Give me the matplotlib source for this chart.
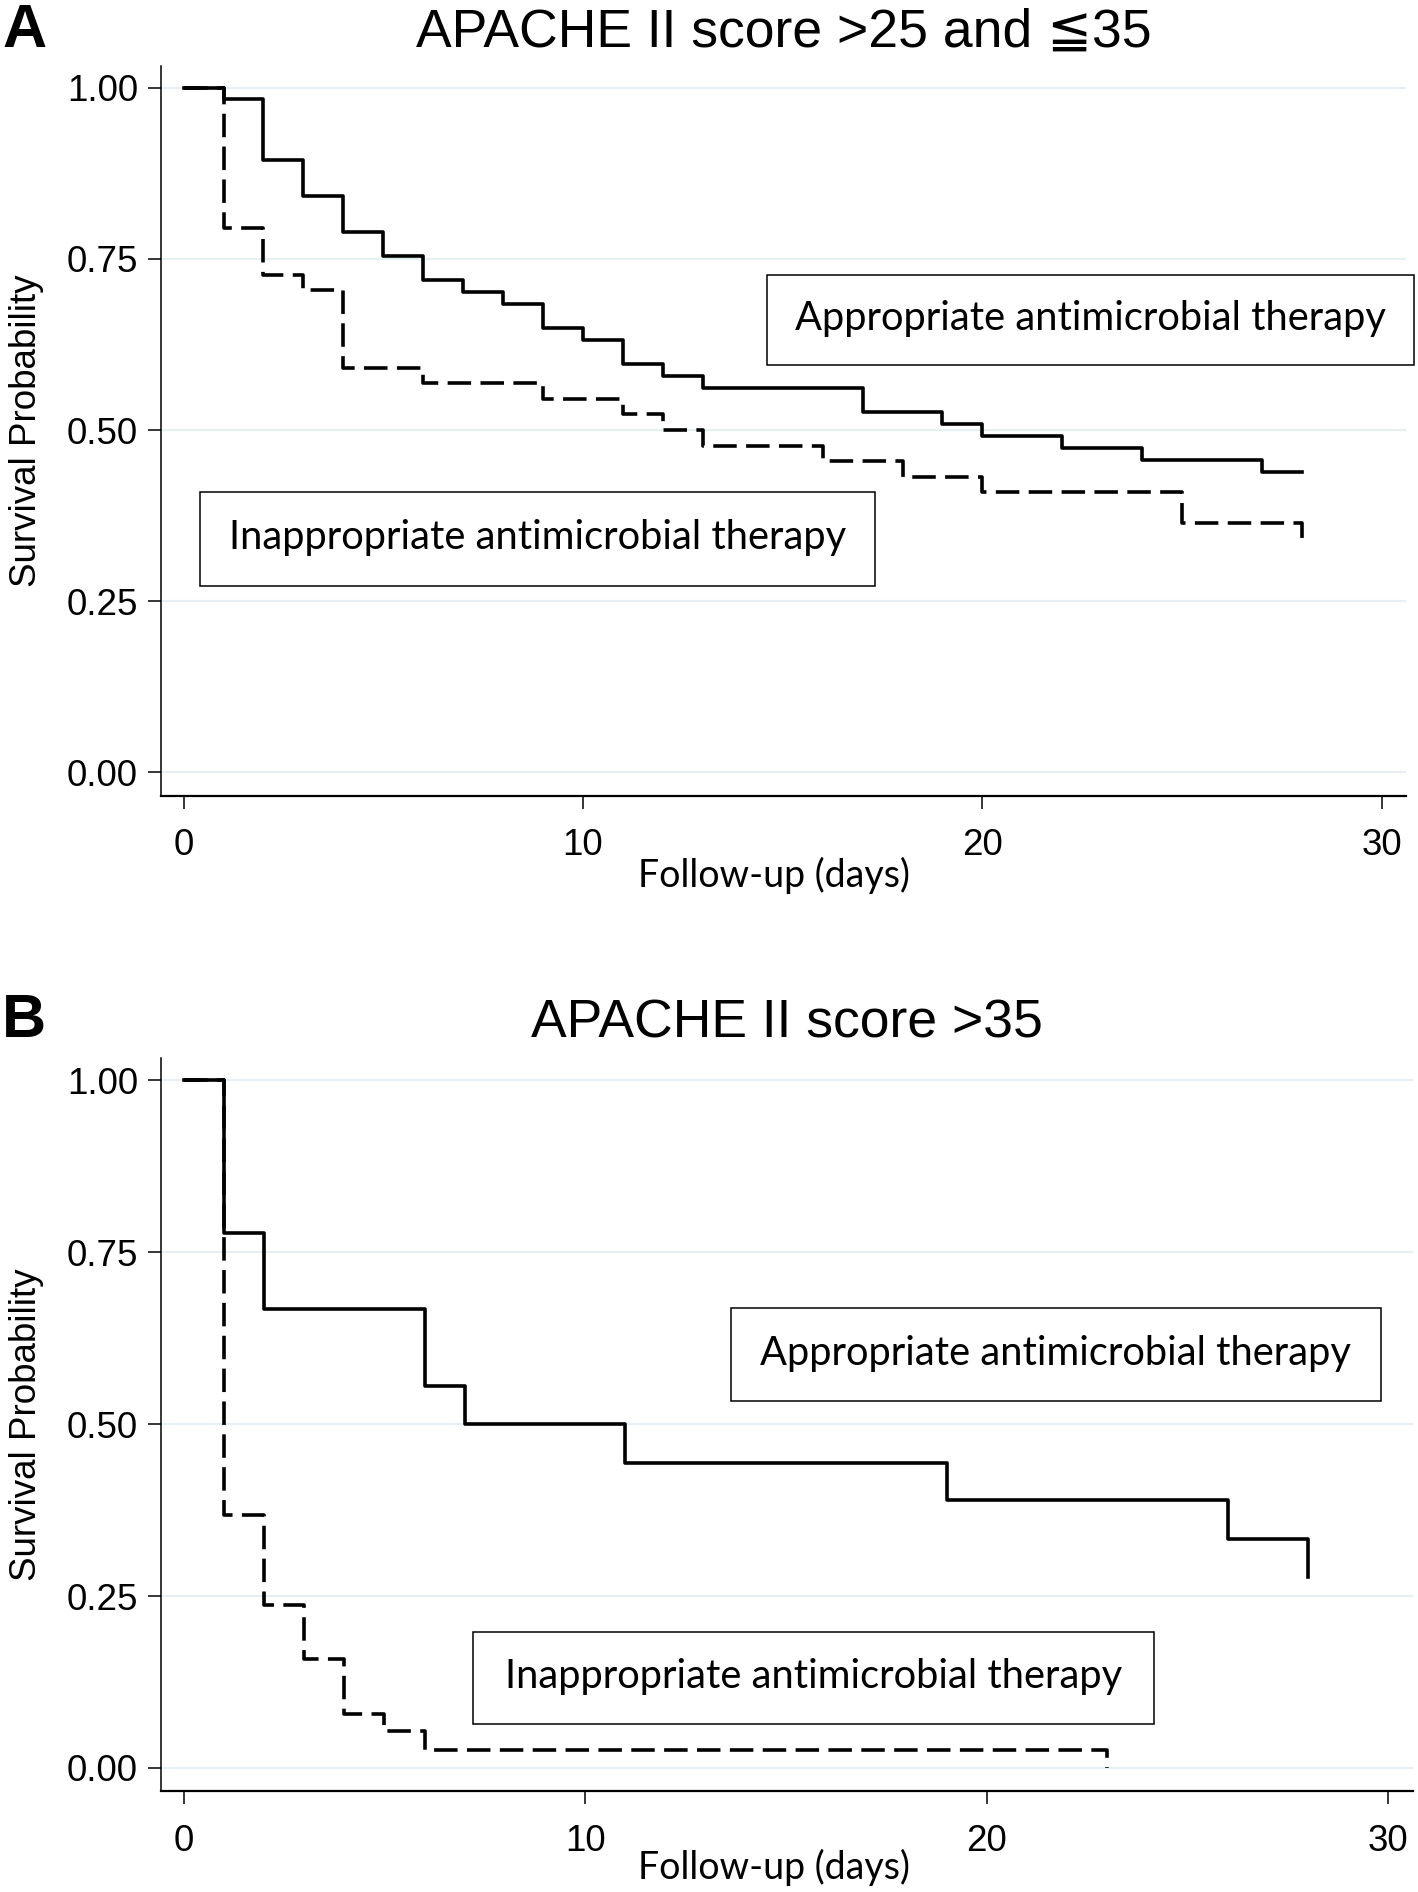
import numpy as np
import matplotlib
matplotlib.use("Agg")
import matplotlib.pyplot as plt
from matplotlib.patches import Rectangle

# Kaplan-Meier step values (time in days, survival after the step)
# Panel A: APACHE II >25 and <=35
a_appr_t = [0, 1, 2, 3, 4, 5, 6, 7, 8, 9, 10, 11, 12, 13, 17, 19, 20, 22, 24, 27, 28]
a_appr_s = [1.0, 0.983, 0.895, 0.842, 0.789, 0.754, 0.719, 0.702, 0.684, 0.649, 0.632,
            0.596, 0.579, 0.561, 0.526, 0.509, 0.491, 0.474, 0.456, 0.439, 0.439]
a_inap_t = [0, 1, 2, 3, 4, 6, 9, 11, 12, 13, 16, 18, 20, 25, 28]
a_inap_s = [1.0, 0.795, 0.727, 0.705, 0.591, 0.568, 0.545, 0.523, 0.500, 0.477,
            0.455, 0.432, 0.409, 0.364, 0.341]

# Panel B: APACHE II >35
b_appr_t = [0, 1, 2, 6, 7, 11, 19, 26, 28]
b_appr_s = [1.0, 0.778, 0.667, 0.556, 0.500, 0.444, 0.389, 0.333, 0.278]
b_inap_t = [0, 1, 2, 3, 4, 5, 6, 23]
b_inap_s = [1.0, 0.368, 0.237, 0.158, 0.079, 0.053, 0.026, 0.0]

titles = ["APACHE II score >25 and \u226635", "APACHE II score >35"]
panel_letters = ["A", "B"]
yticks = [0, 0.25, 0.5, 0.75, 1.0]
ytick_labels = ["0.00", "0.25", "0.50", "0.75", "1.00"]
xticks = [0, 10, 20, 30]
label_appr = "Appropriate antimicrobial therapy"
label_inap = "Inappropriate antimicrobial therapy"

W, H = 1418, 1892
SANS = ["Liberation Sans", "DejaVu Sans"]
BOXFONT = ["Lato", "DejaVu Sans"]
GRID = "#e6eff1"


def fx(px):
    return px / W


def fy(py):
    return 1 - py / H


fig = plt.figure(figsize=(W / 100, H / 100), dpi=100)

# pixel layout for each panel: axes (left, top, right, bottom), title baseline,
# xlabel baseline, and the two label boxes (x0, y0, x1, y1)
panels = [
    dict(ax=(161, 65.7, 1406, 795.7), title_y=46.7, xlab_y=886.7,
         box_appr=(767, 275, 1414, 365), box_inap=(200, 492, 875, 586.5),
         data=(a_appr_t, a_appr_s, a_inap_t, a_inap_s)),
    dict(ax=(161, 1058.3, 1412.6, 1791.3), title_y=1037.3, xlab_y=1879.0,
         box_appr=(731, 1308, 1380.6, 1401), box_inap=(473, 1632.3, 1153.7, 1724.3),
         data=(b_appr_t, b_appr_s, b_inap_t, b_inap_s)),
]

for i, p in enumerate(panels):
    l, t, r, b = p["ax"]
    ax = fig.add_axes([fx(l), fy(b), fx(r - l), (b - t) / H])
    at, as_, it, is_ = p["data"]

    for yv in yticks:
        ax.axhline(yv, color=GRID, lw=1.6, zorder=0)

    ax.step(at, as_, where="post", color="black", lw=2.6, zorder=3)
    ax.step(it, is_, where="post", color="black", lw=2.6, zorder=3,
            linestyle=(0, (6.5, 2.6)))

    ax.set_xlim(-0.565, 30.605)
    ax.set_ylim(-0.034, 1.032)
    ax.set_xticks(xticks)
    ax.set_yticks(yticks)
    ax.set_yticklabels(ytick_labels)
    for s in ["top", "right"]:
        ax.spines[s].set_visible(False)
    ax.spines["left"].set_linewidth(1.1)
    ax.spines["bottom"].set_linewidth(1.6)
    ax.tick_params(axis="both", length=9.5, width=1.1, labelsize=26.5, direction="out")
    ax.tick_params(axis="y", pad=7)
    ax.tick_params(axis="x", pad=14)
    for lab in ax.get_xticklabels() + ax.get_yticklabels():
        lab.set_family(SANS)

    cx = (l + r) / 2
    fig.text(fx(cx), fy(p["title_y"]), titles[i], ha="center", va="baseline",
             fontsize=38.5, family=SANS)
    fig.text(fx(2), fy(p["title_y"]), panel_letters[i], ha="left", va="baseline",
             fontsize=44, fontweight="bold", family=SANS)
    fig.text(fx(27), fy((t + b) / 2), "Survival Probability", rotation=90,
             ha="center", va="center", fontsize=26.5, family=SANS)
    fig.text(fx(774), fy(p["xlab_y"]), "Follow-up (days)", ha="center",
             va="baseline", fontsize=27, family=BOXFONT)

    for key, txt in [("box_appr", label_appr), ("box_inap", label_inap)]:
        x0, y0, x1, y1 = p[key]
        fig.add_artist(Rectangle((fx(x0), fy(y1)), fx(x1 - x0), (y1 - y0) / H,
                                 transform=fig.transFigure, fill=False,
                                 edgecolor="black", lw=1.1))
        fig.text(fx((x0 + x1) / 2), fy((y0 + y1) / 2 + 10), txt, ha="center",
                 va="baseline", fontsize=28.7, family=BOXFONT)

fig.savefig("out.png", dpi=100)
